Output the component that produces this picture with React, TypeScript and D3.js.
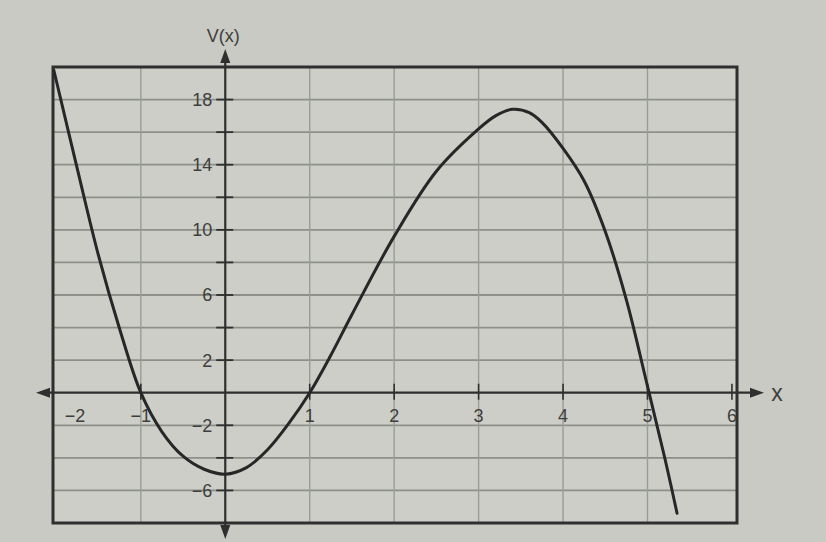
import React from 'react';
import * as d3 from 'd3';

// values
const curveX = [-2.03, -1.75, -1.5, -1.25, -1, -0.75, -0.5, -0.25, 0, 0.25, 0.5, 0.75, 1, 1.25, 1.5, 2, 2.5, 3, 3.2, 3.4, 3.6, 3.75, 4, 4.25, 4.5, 4.75, 5, 5.2, 5.35];
const curveV = [19.8, 13.7, 8.4, 3.9, 0, -2.4, -3.9, -4.7, -5.0, -4.6, -3.5, -1.9, 0, 2.3, 4.8, 9.6, 13.6, 16.2, 17.0, 17.4, 17.2, 16.6, 15.0, 13.0, 9.9, 5.7, 0.4, -3.9, -7.4];

const xTickValues = [-2, -1, 1, 2, 3, 4, 5, 6];
const xGridValues = [-1, 1, 2, 3, 4, 5];
const yTickValues = [18, 16, 14, 12, 10, 8, 6, 4, 2, -2, -4, -6];
const yLabelValues = [18, 14, 10, 6, 2, -2, -6];
const yGridValues = [18, 16, 14, 12, 10, 8, 6, 4, 2, -2, -4, -6];

const W = 826;
const H = 542;
const frame = { left: 53, right: 737, top: 67, bottom: 523 };

const App = () => {
    let x = d3.scaleLinear().domain([-2.04, 6.06]).range([frame.left, frame.right]);
    let y = d3.scaleLinear().domain([-8, 20]).range([frame.bottom, frame.top]);

    let points: [number, number][] = curveX.map((v, i) => [v, curveV[i]]);
    let line = d3.line<[number, number]>()
        .x(d => x(d[0]))
        .y(d => y(d[1]))
        .curve(d3.curveCatmullRom.alpha(0.5));

    let x0 = x(0);
    let y0 = y(0);
    let ink = '#2e2f2e';
    let textInk = '#3d3e3d';
    let font = '"Liberation Sans", Arial, sans-serif';

    return (
        <svg width={W} height={H} style={{ position: 'absolute', left: 0, top: 0 }}>
            <rect x={0} y={0} width={W} height={H} fill="#c9cac3" />
            <rect x={frame.left} y={frame.top} width={frame.right - frame.left} height={frame.bottom - frame.top} fill="#cdcec7" />

            {/* grid */}
            {yGridValues.map(v => (
                <line key={'gy' + v} x1={frame.left} x2={frame.right} y1={y(v)} y2={y(v)} stroke="#8d8f8b" strokeWidth={1.8} />
            ))}
            {xGridValues.map(v => (
                <line key={'gx' + v} x1={x(v)} x2={x(v)} y1={frame.top} y2={frame.bottom} stroke="#9a9c98" strokeWidth={1.4} />
            ))}

            {/* frame */}
            <rect x={frame.left} y={frame.top} width={frame.right - frame.left} height={frame.bottom - frame.top} fill="none" stroke={ink} strokeWidth={3} />

            {/* x axis */}
            <line x1={40} x2={752} y1={y0} y2={y0} stroke={ink} strokeWidth={2.2} />
            <path d={`M${36},${y0} L${50},${y0 - 5} L${50},${y0 + 5} Z`} fill={ink} />
            <path d={`M${764},${y0} L${750},${y0 - 5} L${750},${y0 + 5} Z`} fill={ink} />
            <text x={777} y={y0 + 8} fontSize={23} fontFamily={font} fill={textInk} textAnchor="middle">x</text>
            {xTickValues.map(v => (
                <g key={'xt' + v}>
                    {v !== -2 && <line x1={x(v)} x2={x(v)} y1={y0 - 9} y2={y0 + 7} stroke={ink} strokeWidth={1.6} />}
                    <text x={Math.max(x(v), frame.left + 22)} y={y0 + 29} fontSize={18} fontFamily={font} fill={textInk} textAnchor="middle">
                        {v < 0 ? '\u2212' + Math.abs(v) : v}
                    </text>
                </g>
            ))}

            {/* y axis */}
            <line x1={x0} x2={x0} y1={56} y2={533} stroke={ink} strokeWidth={2.2} />
            <path d={`M${x0},${49} L${x0 - 5},${63} L${x0 + 5},${63} Z`} fill={ink} />
            <path d={`M${x0},${539} L${x0 - 5},${525} L${x0 + 5},${525} Z`} fill={ink} />
            <text x={x0 - 2} y={42} fontSize={18} fontFamily={font} fill={textInk} textAnchor="middle">V(x)</text>
            {yTickValues.map(v => (
                <line key={'yt' + v} x1={x0 - 9} x2={x0 + 8} y1={y(v)} y2={y(v)} stroke={ink} strokeWidth={1.8} />
            ))}
            {yLabelValues.map(v => (
                <text key={'yl' + v} x={x0 - 13} y={y(v)} dy="0.36em" fontSize={18} fontFamily={font} fill={textInk} textAnchor="end">
                    {v < 0 ? '\u2212' + Math.abs(v) : v}
                </text>
            ))}

            {/* V(x) */}
            <path d={line(points) || ''} fill="none" stroke="#262726" strokeWidth={3} strokeLinejoin="round" strokeLinecap="round" />
        </svg>
    );
};

export default App;
